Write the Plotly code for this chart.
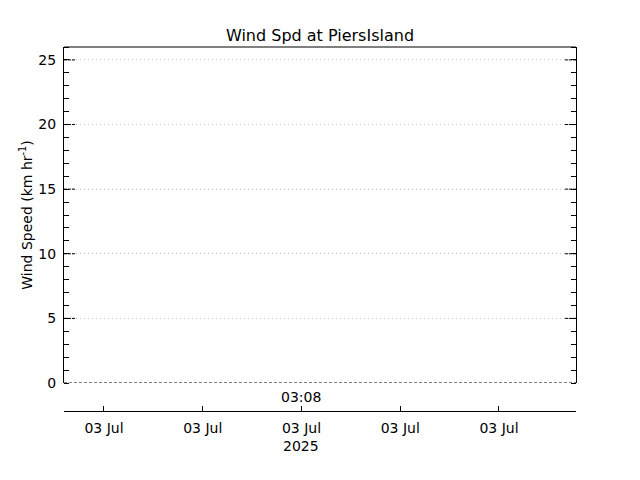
import plotly.graph_objects as go

# Data (no observations plotted in the reference)
times = []
speeds = []

tick_times = ["2025-07-03 03:06:00", "2025-07-03 03:07:00", "2025-07-03 03:08:00",
              "2025-07-03 03:09:00", "2025-07-03 03:10:00"]
tick_labels = ["03 Jul", "03 Jul", "03 Jul", "03 Jul", "03 Jul"]
x_range = ["2025-07-03 03:05:35.7", "2025-07-03 03:10:46.8"]
y_major = [0, 5, 10, 15, 20, 25]
y_range = [0, 26]

title = "Wind Spd at PiersIsland"
ytitle = "Wind Speed (km hr<sup>-1</sup>)"

font = dict(family="DejaVu Sans", size=14, color="black")
dom0 = 28 / 364

fig = go.Figure()
fig.add_trace(go.Scatter(x=times, y=speeds, mode="lines", line=dict(color="black"), showlegend=False))

fig.update_layout(
    width=640, height=480,
    margin=dict(l=64, r=64, t=47, b=69, autoexpand=False),
    paper_bgcolor="white", plot_bgcolor="white",
    font=font,
    showlegend=False,
    title=dict(text=title, x=0.5, xanchor="center", y=1 - 35 / 480, yanchor="middle",
               font=dict(family="DejaVu Sans", size=16, color="black")),
    xaxis=dict(type="date", range=x_range, tickvals=tick_times, ticktext=tick_labels,
               anchor="free", position=0, showline=True, linecolor="black", linewidth=1,
               ticks="inside", ticklen=5, tickcolor="black", showgrid=False, zeroline=False,
               ticklabelstandoff=4, tickfont=font, automargin=False),
    yaxis=dict(domain=[dom0, 1], range=y_range, tickvals=y_major, showline=True, mirror="allticks",
               linecolor="black", linewidth=1, ticks="", showgrid=True, gridcolor="#c4c4c4",
               griddash="1px,3px", gridwidth=1, zeroline=False, automargin=False,
               minor=dict(dtick=1, ticks="inside", ticklen=5, tickcolor="black", showgrid=False),
               title=dict(text=ytitle, font=font, standoff=2), tickfont=font, ticklabelstandoff=4),
)

shapes = [dict(type="line", xref="paper", yref="paper", x0=0, x1=1, y0=1, y1=1,
               line=dict(color="black", width=1))]
# dashed zero line along bottom of plot box
shapes.append(dict(type="line", xref="paper", yref="y", x0=0, x1=1, y0=0, y1=0,
                   line=dict(color="black", width=1, dash="3px,2px")))
# dashed major ticks on both sides
tl = 11 / 512
for v in y_major[1:]:
    shapes.append(dict(type="line", xref="paper", yref="y", x0=0, x1=tl, y0=v, y1=v,
                       line=dict(color="black", width=1, dash="3px,1px")))
    shapes.append(dict(type="line", xref="paper", yref="y", x0=1 - tl, x1=1, y0=v, y1=v,
                       line=dict(color="black", width=1, dash="3px,1px")))
fig.update_layout(shapes=shapes)

fig.add_annotation(x=tick_times[2], xref="x", y=14 / 364, yref="paper", text="03:08",
                   showarrow=False, yanchor="middle", font=font)
fig.add_annotation(x=tick_times[2], xref="x", y=-35 / 364, yref="paper", text="2025",
                   showarrow=False, yanchor="middle", font=font)

fig.write_html("out.html", config={"displayModeBar": False},
               post_script="document.body.style.margin='0';")
